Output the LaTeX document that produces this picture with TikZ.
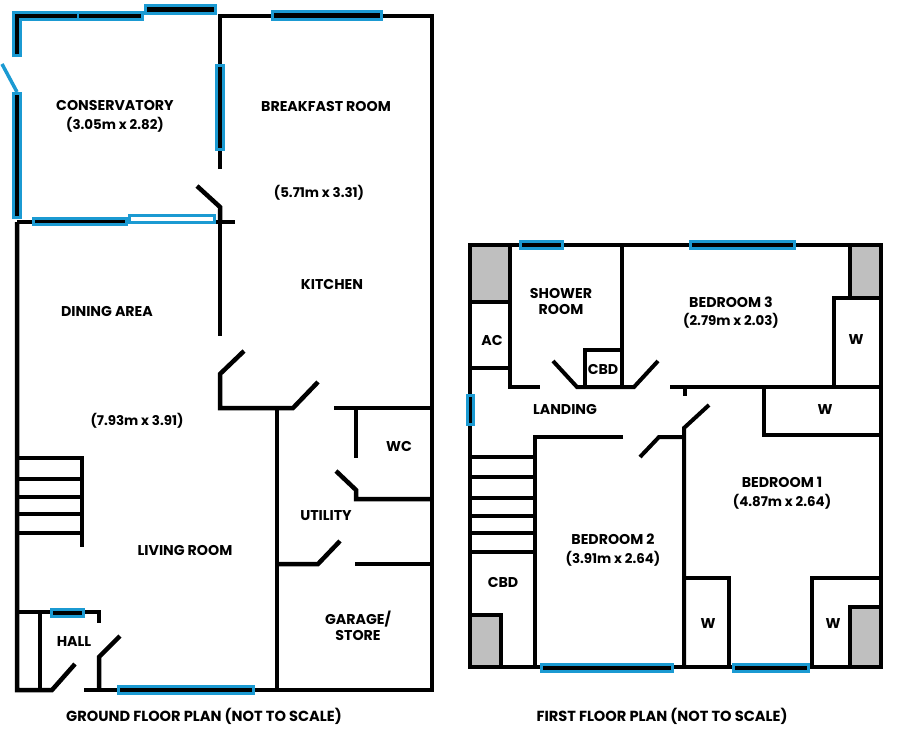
\documentclass[tikz,border=0pt]{standalone}
\usepackage{fontspec}
\setmainfont{Poppins}
\definecolor{paneblue}{HTML}{1B9AD2}
\definecolor{chimney}{HTML}{BFBFBF}
\newcommand\sizetext[1]{{\fontsize{13.4}{16}\selectfont #1}}
\tikzset{
	wall/.style={draw=black,line width=4.5pt},
	thinwall/.style={draw=black,line width=4pt},
	pane/.style={draw=paneblue,fill=black,line width=3pt},
	glass/.style={draw=paneblue,line width=10pt},
	flue/.style={fill=chimney},
	room/.style={font=\fontsize{14.2}{16}\selectfont\bfseries,align=center,inner sep=0pt},
	caption/.style={font=\fontsize{14.6}{16}\selectfont\bfseries,inner sep=0pt}
}
\begin{document}
\begin{tikzpicture}[x=1pt,y=-1pt]
	\useasboundingbox (0,0) rectangle (900,747);
	% ground floor
	\draw[wall] (220,169)--(220,16)--(432,16)--(432,690)--(84,690);
	\draw[wall] (197,186)--(220,207)--(220,222);
	\draw[wall] (17,222)--(235,222);
	\draw[wall] (17,222)--(17,690)--(52,690)--(75,664);
	\draw[wall] (220,222)--(220,336);
	\draw[wall] (244,351)--(220,374)--(220,408)--(293,408)--(318,382);
	\draw[wall] (277,408)--(277,690);
	\draw[wall] (334,408)--(432,408);
	\draw[wall] (356,408)--(356,458);
	\draw[wall] (336,471)--(356,490)--(356,499)--(432,499);
	\draw[wall] (277,564)--(318,564)--(340,541);
	\draw[wall] (355,564)--(432,564);
	% stairs and hall
	\foreach \ytread in {458,479,497,514,533}
		\draw[thinwall] (17,\ytread)--(82,\ytread);
	\draw[thinwall] (82,456)--(82,547);
	\draw[wall] (17,612)--(99,612)--(99,623);
	\draw[wall] (40,612)--(40,690);
	\draw[wall] (120,636)--(99,657)--(99,690);
	% conservatory glazing
	\draw[glass] (17,57)--(17,16)--(144,16);
	\draw[wall] (17,54)--(17,16)--(141,16);
	\draw[paneblue,line width=2pt] (78,11)--(78,21);
	\draw[paneblue,line width=3.5pt] (2,64)--(17,92);
	\draw[pane] (145.5,5.5) rectangle (215.5,13.5);
	\draw[pane] (13.5,93.5) rectangle (20.5,217.5);
	\draw[pane] (216.5,65.5) rectangle (223.5,149.5);
	\draw[pane] (33.5,218.5) rectangle (126.5,224.5);
	\draw[draw=paneblue,fill=white,line width=3pt] (129.5,215.5) rectangle (214.5,222);
	\draw[pane] (51.5,609) rectangle (83.5,616);
	\draw[pane] (118.5,686.5) rectangle (253.5,693.5);
	\draw[pane] (272,11.5) rectangle (381,19.5);
	% first floor
	\draw[flue] (470,245) rectangle (510,302);
	\draw[flue] (849,245) rectangle (881,298);
	\draw[flue] (470,615) rectangle (501,667);
	\draw[flue] (849,607) rectangle (881,667);
	\draw[thinwall] (470,245) rectangle (881,667);
	\draw[thinwall] (470,302)--(510,302);
	\draw[thinwall] (470,368)--(510,368);
	\draw[thinwall] (510,245)--(510,387)--(540,387);
	\draw[thinwall] (622,245)--(622,387);
	\draw[thinwall] (585,387)--(585,350)--(622,350);
	\draw[thinwall] (553,361)--(577,387)--(634,387)--(658,361);
	\draw[thinwall] (670,387)--(881,387);
	\draw[thinwall] (684.5,387)--(684.5,396);
	\draw[thinwall] (834,387)--(834,298)--(881,298);
	\draw[thinwall] (849.5,245)--(849.5,298);
	\draw[thinwall] (764,387)--(764,435)--(881,435);
	\draw[thinwall] (623,437)--(535,437)--(535,667);
	\draw[thinwall] (640,457)--(659,437)--(684,437);
	\draw[thinwall] (709,405)--(684,428)--(684,667);
	\foreach \ytread in {457,477,498,516,533,552}
		\draw[thinwall] (470,\ytread)--(535,\ytread);
	\draw[thinwall] (470,615)--(501,615)--(501,667);
	\draw[thinwall] (684,578)--(729,578)--(729,667);
	\draw[thinwall] (881,578)--(811.5,578)--(811.5,667);
	\draw[thinwall] (881,607)--(849.5,607)--(849.5,667);
	\draw[pane] (520.5,241.5) rectangle (562.5,248.5);
	\draw[pane] (690,241.5) rectangle (794.5,248.5);
	\draw[pane] (467.5,395.5) rectangle (473.5,424.5);
	\draw[pane] (541.5,664) rectangle (672,671);
	\draw[pane] (733.5,664) rectangle (808.5,671);
	% labels
	\node[room] (conservatory) at (115,116.5) {CONSERVATORY\\[3pt]\sizetext{(3.05m x 2.82)}};
	\node[room] (breakfast) at (326,106) {BREAKFAST ROOM};
	\node[room] (breakfastsize) at (319,193) {\sizetext{(5.71m x 3.31)}};
	\node[room] (kitchen) at (332,284) {KITCHEN};
	\node[room] (dining) at (107,311) {DINING AREA};
	\node[room] (livingsize) at (137,421) {\sizetext{(7.93m x 3.91)}};
	\node[room] (living) at (185,550) {LIVING ROOM};
	\node[room] (hall) at (74,642) {HALL};
	\node[room] (wc) at (399,446) {WC};
	\node[room] (utility) at (326,516) {UTILITY};
	\node[room] (garage) at (358,626) {GARAGE/\\STORE};
	\node[room] (shower) at (561,301) {SHOWER\\ROOM};
	\node[room] (ac) at (492,340) {AC};
	\node[room] (cbdupper) at (603,369) {CBD};
	\node[room] (landing) at (565,409) {LANDING};
	\node[room] (bedthree) at (731,313) {BEDROOM 3\\[2pt]\sizetext{(2.79m x 2.03)}};
	\node[room] (wtop) at (856,340) {W};
	\node[room] (wmid) at (825,410) {W};
	\node[room] (bedone) at (782,493.5) {BEDROOM 1\\[3pt]\sizetext{(4.87m x 2.64)}};
	\node[room] (bedtwo) at (613,550.5) {BEDROOM 2\\[3pt]\sizetext{(3.91m x 2.64)}};
	\node[room] (cbdlower) at (503,582) {CBD};
	\node[room] (wleft) at (708,624) {W};
	\node[room] (wright) at (833,624) {W};
	\node[caption] (groundplan) at (204,716.5) {GROUND FLOOR PLAN (NOT TO SCALE)};
	\node[caption] (firstplan) at (662,716.5) {FIRST FLOOR PLAN (NOT TO SCALE)};
\end{tikzpicture}
\end{document}
